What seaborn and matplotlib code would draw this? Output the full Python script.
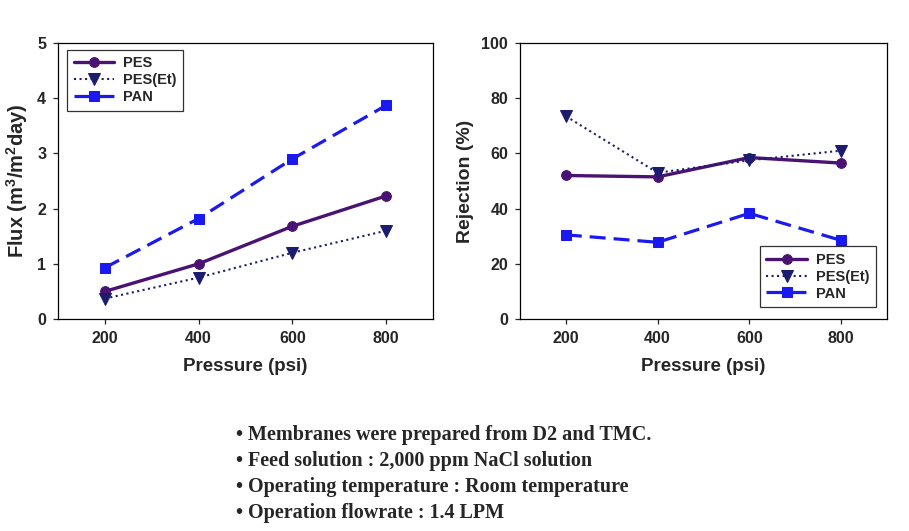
import matplotlib
matplotlib.use("Agg")
import matplotlib.pyplot as plt
import seaborn as sns
import pandas as pd

sns.set_style("ticks")
plt.rcParams['font.family'] = ['Liberation Sans', 'DejaVu Sans']
plt.rcParams['mathtext.fontset'] = 'custom'
plt.rcParams['mathtext.rm'] = 'Liberation Sans:bold'
plt.rcParams['mathtext.bf'] = 'Liberation Sans:bold'

pressure = [200, 400, 600, 800]
series_names = ["PES", "PES(Et)", "PAN"]
flux_pes = [0.50, 1.00, 1.68, 2.23]
flux_pes_et = [0.37, 0.75, 1.20, 1.60]
flux_pan = [0.93, 1.82, 2.90, 3.87]
rej_pes = [52.0, 51.5, 58.5, 56.5]
rej_pes_et = [73.5, 53.0, 57.5, 61.0]
rej_pan = [30.5, 27.8, 38.3, 28.5]
notes = ["\u2022 Membranes were prepared from D2 and TMC.",
         "\u2022 Feed solution : 2,000 ppm NaCl solution",
         "\u2022 Operating temperature : Room temperature",
         "\u2022 Operation flowrate : 1.4 LPM"]

styles = {
    "PES": dict(color="#4a1273", marker="o", linestyle="-", lw=2.4, ms=7),
    "PES(Et)": dict(color="#1c1c6e", marker="v", linestyle=":", lw=1.5, ms=8),
    "PAN": dict(color="#1a1af0", marker="s", linestyle=(0, (5, 2.5)), lw=2.3, ms=7.5),
}

fig = plt.figure(figsize=(9.09, 5.31), dpi=100)
ax1 = fig.add_axes([0.0638, 0.3992, 0.4125, 0.5198])
ax2 = fig.add_axes([0.572, 0.3992, 0.4037, 0.5198])

def draw(ax, vals):
    for name, v in zip(series_names, vals):
        s = styles[name]
        df = pd.DataFrame({"Pressure": pressure, "val": v})
        sns.lineplot(data=df, x="Pressure", y="val", ax=ax, color=s["color"],
                     marker=s["marker"], linestyle=s["linestyle"], linewidth=s["lw"],
                     markersize=s["ms"], markeredgecolor=s["color"], label=name)
    ax.set_xlim(100, 900)
    ax.set_xticks(pressure)
    for sp in ax.spines.values():
        sp.set_linewidth(0.9)
        sp.set_color("black")
    ax.tick_params(axis="both", direction="out", length=3.5, width=0.9, labelsize=11.5, pad=5)
    for lbl in ax.get_xticklabels() + ax.get_yticklabels():
        lbl.set_fontweight("bold")
    ax.set_xlabel("Pressure (psi)", fontsize=13.5, fontweight="bold", labelpad=9)

def legend(ax, **kw):
    leg = ax.legend(frameon=True, fancybox=False, edgecolor="black",
                    prop=dict(weight="bold", size=10.5), handlelength=2.8,
                    borderpad=0.45, labelspacing=0.2, borderaxespad=0, handletextpad=0.6, **kw)
    leg.get_frame().set_linewidth(0.9)
    return leg

draw(ax1, [flux_pes, flux_pes_et, flux_pan])
ax1.set_ylim(0, 5)
ax1.set_yticks([0, 1, 2, 3, 4, 5])
ax1.set_ylabel(r"Flux (m$^{\mathbf{3}}$/m$^{\mathbf{2}}$day)", fontsize=14.5, fontweight="bold", labelpad=5)
legend(ax1, loc="upper left", bbox_to_anchor=(0.024, 0.975))

draw(ax2, [rej_pes, rej_pes_et, rej_pan])
ax2.set_ylim(0, 100)
ax2.set_yticks([0, 20, 40, 60, 80, 100])
ax2.set_ylabel("Rejection (%)", fontsize=14, fontweight="bold", labelpad=5)
legend(ax2, loc="lower right", bbox_to_anchor=(0.97, 0.043))

ys = [435, 461, 487, 513]
for t, y in zip(notes, ys):
    fig.text(236 / 909, 1 - y / 531, t, ha="left", va="center", fontsize=14.5,
             fontweight="bold", family=["Liberation Serif", "DejaVu Serif"])

fig.savefig("out.png", dpi=100)
